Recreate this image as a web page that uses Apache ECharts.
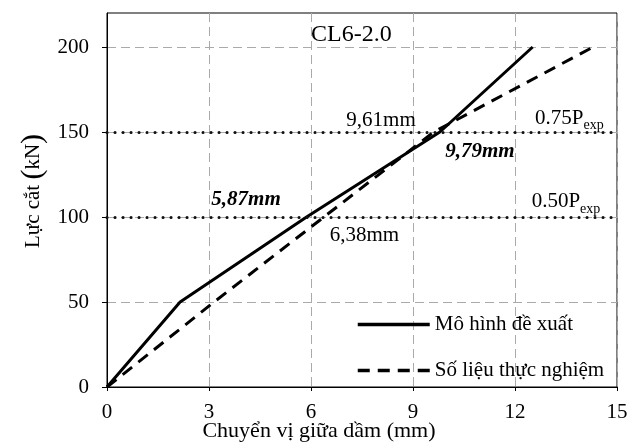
<!DOCTYPE html>
<html>
<head>
<meta charset="utf-8">
<script src="https://cdn.jsdelivr.net/npm/echarts@6/dist/echarts.min.js"></script>
<style>
  body { margin: 0; background: #fff; }
  #chart { width: 638px; height: 442px; }
</style>
</head>
<body>
<div id="chart"></div>
<script type="text/javascript">
    // Chuyển vị (mm) - Lực cắt (kN)
    var model_x = [0, 2.15, 5.87, 9.79, 12.52];
    var model_y = [0, 50, 100, 150, 200];
    var exp_x = [0, 3.15, 6.38, 9.61, 14.3];
    var exp_y = [0, 50, 100, 150, 200];
    var x_ticks = [0, 3, 6, 9, 12, 15];
    var y_ticks = [0, 50, 100, 150, 200];
    var ref_levels = [100, 150];
    var ref_names = ['{m|0.50P}{sub|exp}', '{m|0.75P}{sub|exp}'];

    function pairs(xs, ys) {
        var out = [];
        for (var i = 0; i < xs.length; i++) {
            out.push([xs[i], ys[i]]);
        }
        return out;
    }

    var font = 'Liberation Serif, Times New Roman, serif';
    var chart = echarts.init(document.getElementById('chart'));

    // nhãn chú thích trên đồ thị
    var notes = [
        {coord: [8.06, 157], text: '9,61mm', bold: false},
        {coord: [7.57, 89], text: '6,38mm', bold: false},
        {coord: [4.09, 110], text: '5,87mm', bold: true},
        {coord: [10.97, 138.5], text: '9,79mm', bold: true},
        {coord: [13.6, 157], text: ref_names[1], bold: false},
        {coord: [13.5, 108], text: ref_names[0], bold: false}
    ];
    var notePoints = notes.map(function (n) {
        return {
            coord: n.coord,
            symbolSize: 0,
            label: {
                show: true,
                position: 'inside',
                formatter: n.text,
                color: '#000',
                fontFamily: font,
                fontSize: 21,
                fontWeight: n.bold ? 'bold' : 'normal',
                fontStyle: n.bold ? 'italic' : 'normal',
                rich: {
                    m: {fontSize: 21, fontFamily: font, color: '#000', lineHeight: 21, verticalAlign: 'top'},
                    sub: {fontSize: 14, fontFamily: font, color: '#000', lineHeight: 25, verticalAlign: 'bottom'}
                }
            }
        };
    });

    var refLines = ref_levels.map(function (v) {
        return [{coord: [0, v]}, {coord: [15, v]}];
    });

    var option = {
        animation: false,
        title: {
            text: 'CL6-2.0',
            left: 306,
            top: 18,
            textStyle: {fontFamily: font, fontSize: 24, fontWeight: 'normal', color: '#000'}
        },
        legend: {
            orient: 'vertical',
            left: 351,
            top: 309,
            itemWidth: 72,
            itemHeight: 14,
            itemGap: 25,
            data: ['Mô hình đề xuất', 'Số liệu thực nghiệm'],
            itemStyle: {opacity: 0},
            lineStyle: {width: 3.5},
            textStyle: {fontFamily: font, fontSize: 21, color: '#000'}
        },
        grid: {
            left: 107,
            right: 21,
            top: 13,
            bottom: 55,
            containLabel: false,
            outerBoundsMode: 'none',
            show: true,
            borderColor: '#000',
            borderWidth: 1
        },
        xAxis: {
            type: 'value',
            min: 0,
            max: 15,
            interval: 3,
            name: 'Chuyển vị giữa dầm (mm)',
            nameLocation: 'middle',
            nameGap: 33,
            nameMoveOverlap: false,
            nameTextStyle: {fontFamily: font, fontSize: 22, color: '#000', padding: [0, 86, 0, 0]},
            axisLine: {lineStyle: {color: '#000', width: 1}},
            axisTick: {show: true, length: 4, lineStyle: {color: '#000'}},
            axisLabel: {
                margin: 15,
                fontFamily: font,
                fontSize: 21,
                color: '#000',
                formatter: function (v) { return x_ticks.indexOf(v) >= 0 ? String(v) : ''; }
            },
            splitLine: {show: true, lineStyle: {color: '#aaa', type: [9, 5], width: 1}}
        },
        yAxis: {
            type: 'value',
            min: 0,
            max: 220,
            interval: 50,
            name: 'Lực cắt {p|(}kN{p|)}',
            nameLocation: 'middle',
            nameGap: 59,
            nameMoveOverlap: false,
            nameTextStyle: {
                fontFamily: font, fontSize: 21, color: '#000', padding: [0, 0, 0, 18],
                rich: {p: {fontFamily: font, fontSize: 30, color: '#000'}}
            },
            axisLine: {show: true, lineStyle: {color: '#000', width: 1}},
            axisTick: {show: true, length: 5, lineStyle: {color: '#000'}},
            axisLabel: {
                margin: 18,
                fontFamily: font,
                fontSize: 21,
                color: '#000',
                showMaxLabel: false,
                formatter: function (v) { return y_ticks.indexOf(v) >= 0 ? String(v) : ''; }
            },
            splitLine: {show: true, showMaxLine: false, lineStyle: {color: '#aaa', type: [9, 5], width: 1}}
        },
        series: [
            {
                name: 'Mô hình đề xuất',
                type: 'line',
                data: pairs(model_x, model_y),
                symbol: 'none',
                lineStyle: {color: '#000', width: 3},
                itemStyle: {color: '#000'},
                markLine: {
                    silent: true,
                    symbol: 'none',
                    label: {show: false},
                    lineStyle: {color: '#111', width: 3, type: [0.1, 7.9], cap: 'round'},
                    data: refLines
                },
                markPoint: {
                    silent: true,
                    data: notePoints
                },
                z: 3
            },
            {
                name: 'Số liệu thực nghiệm',
                type: 'line',
                data: pairs(exp_x, exp_y),
                symbol: 'none',
                lineStyle: {color: '#000', width: 3, type: [12, 8]},
                itemStyle: {color: '#000'},
                z: 3
            }
        ]
    };
    chart.setOption(option);
</script>
</body>
</html>
